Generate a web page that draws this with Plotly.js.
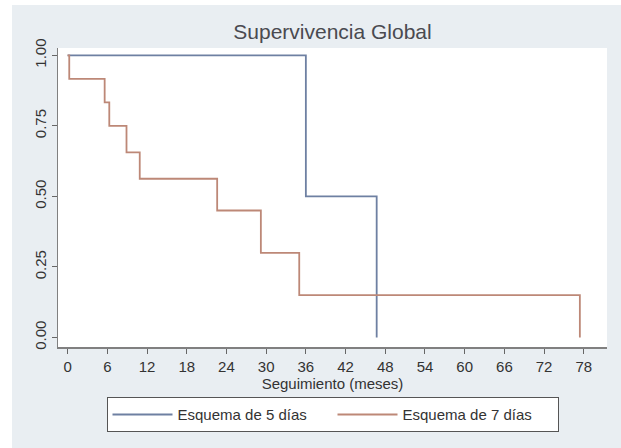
<!DOCTYPE html>
<html>
<head>
<meta charset="utf-8">
<script src="https://cdn.plot.ly/plotly-3.0.1.min.js"></script>
<style>
  html, body { margin: 0; padding: 0; background: #ffffff; width: 621px; height: 448px; overflow: hidden; }
  #chart { position: absolute; left: 12px; top: 5px; width: 609px; height: 443px; }
</style>
</head>
<body>
<div id="chart"></div>
<script>
// Kaplan-Meier estimates
const time5 = [0, 36.0, 46.7];
const surv5 = [1.0, 0.5, 0.0];

const time7 = [0, 0.25, 5.6, 6.3, 8.9, 10.9, 22.6, 29.2, 35.0, 77.4];
const surv7 = [1.0, 0.9167, 0.8333, 0.75, 0.6563, 0.5625, 0.45, 0.30, 0.15, 0.0];

const seriesNames = ["Esquema de 5 días", "Esquema de 7 días"];
const xTicks = [0, 6, 12, 18, 24, 30, 36, 42, 48, 54, 60, 66, 72, 78];
const yTicks = [0, 0.25, 0.5, 0.75, 1.0];
const yTickText = ["0.00", "0.25", "0.50", "0.75", "1.00"];

const FONT = "Liberation Sans, Arial, Helvetica, sans-serif";
const TXT = "#333333";

const traces = [
  { x: time5, y: surv5, name: seriesNames[0], type: "scatter", mode: "lines",
    line: { shape: "hv", color: "#6e80a2", width: 1.8 } },
  { x: time7, y: surv7, name: seriesNames[1], type: "scatter", mode: "lines",
    line: { shape: "hv", color: "#bd8877", width: 1.8 } }
];

const layout = {
  width: 609, height: 443,
  paper_bgcolor: "#e9eef2",
  plot_bgcolor: "#ffffff",
  margin: { l: 46, r: 14, t: 43, b: 101 },
  font: { family: FONT, size: 15, color: TXT },
  title: { text: "Supervivencia Global", font: { family: FONT, size: 21, color: "#4a4a50" },
           x: 0.5, xref: "paper", xanchor: "center", y: 1, yref: "container", yanchor: "top", pad: { t: 19 } },
  xaxis: {
    range: [-1.45, 81.5], tickvals: xTicks, ticks: "outside", ticklen: 5, tickwidth: 1, tickcolor: "#666",
    showline: true, linecolor: "#808080", linewidth: 1.5, showgrid: false, zeroline: false, mirror: false,
    tickfont: { family: FONT, size: 15, color: TXT },
    title: { text: "Seguimiento (meses)", font: { family: FONT, size: 15, color: TXT }, standoff: 4 }
  },
  yaxis: {
    range: [-0.034, 1.026], tickvals: yTicks, ticktext: yTickText, tickangle: -90,
    ticks: "outside", ticklen: 5, tickwidth: 1, tickcolor: "#666",
    showline: true, linecolor: "#808080", linewidth: 1.5, showgrid: false, zeroline: false, mirror: false,
    tickfont: { family: FONT, size: 15, color: TXT }
  },
  showlegend: true,
  legend: {
    orientation: "h", x: 0.5, xanchor: "center", y: -0.168, yanchor: "top",
    bgcolor: "#ffffff", bordercolor: "#555", borderwidth: 1,
    font: { family: FONT, size: 15, color: TXT },
    itemwidth: 60, entrywidth: 150, entrywidthmode: "pixels"
  }
};

Plotly.newPlot("chart", traces, layout, { displayModeBar: false, staticPlot: true });
</script>
</body>
</html>
